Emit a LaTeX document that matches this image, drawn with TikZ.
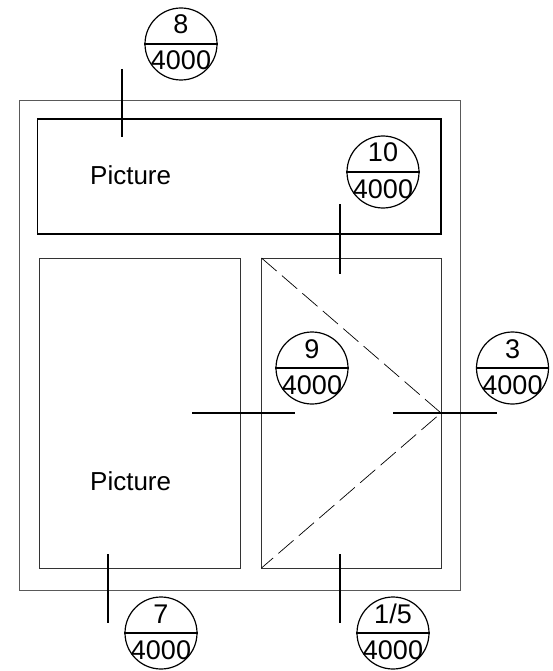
\documentclass[tikz,border=0pt]{standalone}
\usepackage{fontspec}
\setmainfont{Liberation Sans}
\tikzset{
  wall/.style={draw=black!65,line width=1pt},
  frame/.style={draw=black,line width=1.5pt},
  win/.style={draw=black!80,line width=1pt},
  cut/.style={draw=black,line width=1.4pt},
  dashline/.style={draw=black,line width=0.7pt,dash pattern=on 20pt off 7pt},
  bubble/.style={circle,draw=black,line width=1.2pt,minimum size=72pt,inner sep=0pt},
  lab/.style={inner sep=0pt,anchor=base,font=\fontsize{27pt}{27pt}\selectfont},
  pict/.style={inner sep=0pt,anchor=base west,font=\fontsize{26pt}{26pt}\selectfont}
}
\newcommand{\tagbubble}[4]{%
  \node[bubble] (#1) at (#2,#3) {};
  \draw[line width=1.2pt] (#1.west) -- (#1.east);
  \node[lab] (#1top) at (#2,#3-10) {#4};
  \node[lab] (#1bot) at (#2,#3+26) {4000};
}
\begin{document}
\begin{tikzpicture}[x=1pt,y=-1pt]
\useasboundingbox (0,0) rectangle (552,671);
\draw[wall] (19.5,101) rectangle (460.5,590.5);
\draw[frame] (37.5,119) rectangle (441,234);
\draw[win] (39.5,258) rectangle (240,568);
\draw[win] (261.5,258) rectangle (441,568);
\coordinate (a) at (261.5,258);
\coordinate (b) at (441,413);
\coordinate (c) at (261.5,568);
\draw[dashline] (a) -- (b) -- (c);
\node[pict] (p1) at (90,184) {Picture};
\node[pict] (p2) at (90,490) {Picture};
\tagbubble{t8}{181}{44}{8}
\tagbubble{t10}{383}{172}{10}
\tagbubble{t9}{312}{368}{9}
\tagbubble{t3}{512.5}{368}{3}
\tagbubble{t7}{161}{633}{7}
\tagbubble{t15}{393}{633}{1/5}
\coordinate (c8a) at (122,69);   \coordinate (c8b) at (122,137);
\coordinate (c10a) at (340,204); \coordinate (c10b) at (340,274);
\coordinate (c9a) at (192,413);  \coordinate (c9b) at (295,413);
\coordinate (c3a) at (393,413);  \coordinate (c3b) at (497,413);
\coordinate (c7a) at (108,554);  \coordinate (c7b) at (108,623);
\coordinate (c15a) at (340,554); \coordinate (c15b) at (340,623);
\draw[cut] (c8a) -- (c8b);
\draw[cut] (c10a) -- (c10b);
\draw[cut] (c9a) -- (c9b);
\draw[cut] (c3a) -- (c3b);
\draw[cut] (c7a) -- (c7b);
\draw[cut] (c15a) -- (c15b);
\end{tikzpicture}
\end{document}
